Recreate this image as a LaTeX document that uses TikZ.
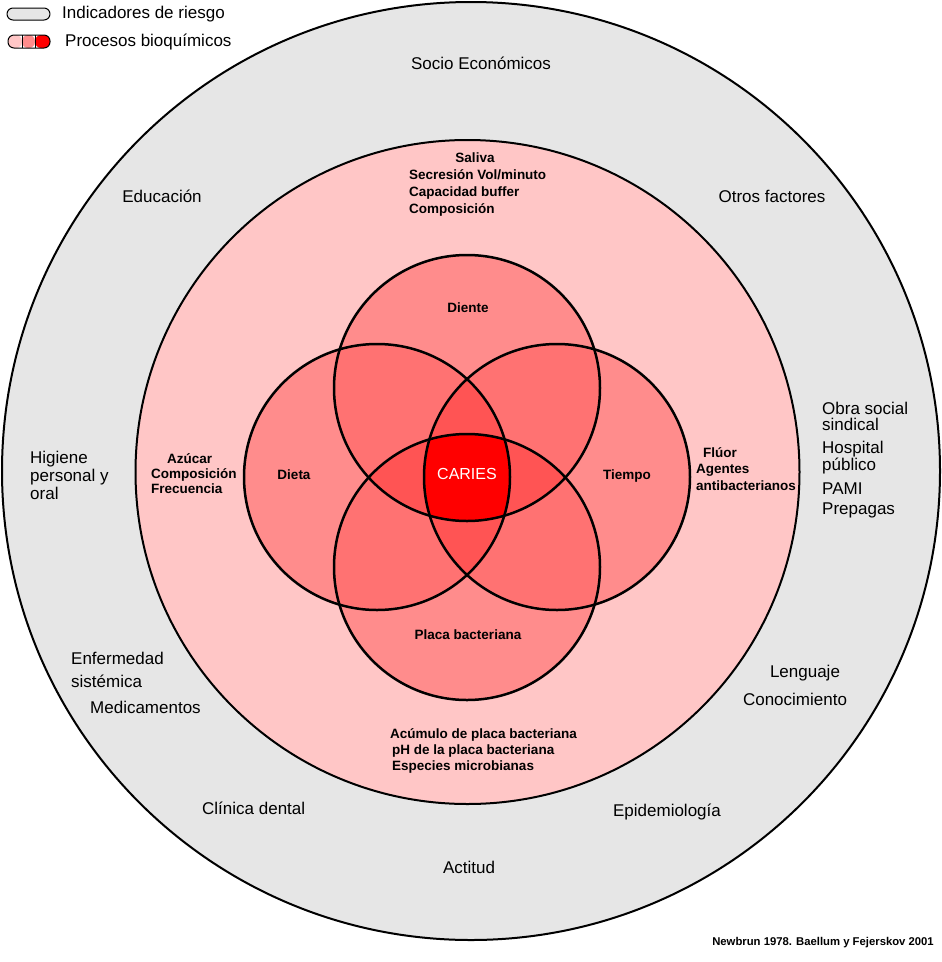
\documentclass[tikz,border=0pt]{standalone}
\usepackage{fontspec}
\setmainfont{Liberation Sans}
\usetikzlibrary{positioning}

\definecolor{grisriesgo}{RGB}{230,230,230}
\definecolor{rosafondo}{RGB}{255,198,198}
\definecolor{rosauno}{RGB}{255,140,140}
\definecolor{rosados}{RGB}{255,114,114}
\definecolor{rosatres}{RGB}{255,84,84}
\definecolor{rojocaries}{RGB}{255,0,0}

\begin{document}
\begin{tikzpicture}[
        x=1pt, y=-1pt, line join=round,
        every node/.append style={inner sep=0pt}
    ]

    \tikzstyle{anillo} = [draw,line width=2pt]
    \tikzstyle{venn} = [draw,line width=2.5pt]
    \tikzstyle{factor} = [font=\fontsize{17}{18}\selectfont,align=left]
    \tikzstyle{proceso} = [font=\bfseries\fontsize{13.5}{16.5}\selectfont,align=left]
    \tikzstyle{pastilla} = [rounded corners=6pt,line width=1pt]

    \useasboundingbox (0,0) rectangle (942,962);
    \fill[white] (0,0) rectangle (942,962);

    % anillos
    \draw[anillo,fill=grisriesgo] (471,471) circle (469pt);
    \draw[anillo,fill=rosafondo] (467.5,472) circle (332pt);

    % circulos de Keyes
    \coordinate (dienteC) at (467,388);
    \coordinate (dietaC) at (377,477);
    \coordinate (tiempoC) at (557,477);
    \coordinate (placaC) at (467,567);

    \foreach \p in {dienteC,dietaC,tiempoC,placaC}
        \fill[rosauno] (\p) circle (133pt);
    \foreach \a/\b in {dienteC/dietaC,dienteC/tiempoC,dienteC/placaC,
                       dietaC/tiempoC,dietaC/placaC,tiempoC/placaC}{
        \begin{scope}
            \clip (\a) circle (133pt);
            \fill[rosados] (\b) circle (133pt);
        \end{scope}
    }
    \foreach \a/\b/\p in {dienteC/dietaC/tiempoC,dienteC/dietaC/placaC,
                          dienteC/tiempoC/placaC,dietaC/tiempoC/placaC}{
        \begin{scope}
            \clip (\a) circle (133pt);
            \clip (\b) circle (133pt);
            \fill[rosatres] (\p) circle (133pt);
        \end{scope}
    }
    \begin{scope}
        \clip (dienteC) circle (133pt);
        \clip (dietaC) circle (133pt);
        \clip (tiempoC) circle (133pt);
        \fill[rojocaries] (placaC) circle (133pt);
    \end{scope}
    \foreach \p in {dienteC,dietaC,tiempoC,placaC}
        \draw[venn] (\p) circle (133pt);

    % procesos bioquimicos
    \node[proceso] (diente) at (468,308) {Diente};
    \node[proceso] (dieta) at (294,475) {Dieta};
    \node[proceso] (tiempo) at (627,476) {Tiempo};
    \node[proceso] (placa) at (468,635) {Placa bacteriana};
    \node[text=white,font=\fontsize{16}{18}\selectfont] (caries) at (467,474) {CARIES};

    \node[proceso] (saliva) at (475,158) {Saliva};
    \node[proceso,anchor=west,font=\bfseries\fontsize{13.5}{17}\selectfont] (salivaitems) at (409,193)
        {Secresión Vol/minuto\\Capacidad buffer\\Composición};
    \node[proceso,anchor=west,font=\bfseries\fontsize{13.5}{15}\selectfont] (azucar) at (151,474)
        {\hspace*{16pt}Azúcar\\Composición\\Frecuencia};
    \node[proceso,anchor=west] (fluor) at (696,469)
        {\hspace*{7pt}Flúor\\Agentes\\antibacterianos};
    \node[proceso,anchor=west,font=\bfseries\fontsize{13.5}{16}\selectfont] (acumulo) at (390,751)
        {Acúmulo de placa bacteriana\\\hspace*{2pt}pH de la placa bacteriana\\\hspace*{2pt}Especies microbianas};

    % indicadores de riesgo
    \node[factor] (socio) at (481,63) {Socio Económicos};
    \node[factor] (educacion) at (162,196) {Educación};
    \node[factor] (otros) at (772,196) {Otros factores};
    \node[factor,anchor=west] (higiene) at (30,475) {Higiene\\personal y\\oral};
    \node[factor,anchor=west,font=\fontsize{17}{16}\selectfont] (obra) at (822,416) {Obra social\\sindical};
    \node[factor,anchor=west,font=\fontsize{17}{17}\selectfont] (hospital) at (822,458) {Hospital\\público};
    \node[factor,anchor=west] (pami) at (822,489) {PAMI};
    \node[factor,anchor=west] (prepagas) at (822,510) {Prepagas};
    \node[factor,anchor=west,font=\fontsize{17}{23}\selectfont] (enfermedad) at (71,669.5) {Enfermedad\\sistémica};
    \node[factor,anchor=west] (medicamentos) at (90,707) {Medicamentos};
    \node[factor,anchor=west] (clinica) at (202,808) {Clínica dental};
    \node[factor] (actitud) at (469,867) {Actitud};
    \node[factor] (epidemiologia) at (667,812) {Epidemiología};
    \node[factor] (lenguaje) at (805,673) {Lenguaje};
    \node[factor] (conocimiento) at (795,699) {Conocimiento};

    % leyenda
    \draw[pastilla,fill=grisriesgo] (7,8) rectangle (50,20);
    \node[factor,anchor=west] (leyriesgo) at (62,14) {Indicadores de riesgo};
    \begin{scope}[rounded corners=6pt]
        \clip (8,35) rectangle (50,48);
        \fill[rosafondo] (8,35) rectangle (22,48);
        \fill[rosauno] (22,35) rectangle (35,48);
        \fill[rojocaries] (35,35) rectangle (50,48);
    \end{scope}
    \draw[line width=1pt] (22,35) -- (22,48) (35,35) -- (35,48);
    \draw[pastilla] (8,35) rectangle (50,48);
    \node[factor,anchor=west] (leyprocesos) at (65,42) {Procesos bioquímicos};

    \node[font=\bfseries\fontsize{11.3}{13}\selectfont,anchor=east] (fuente) at (934,943)
        {Newbrun 1978. Baellum y Fejerskov 2001};

\end{tikzpicture}
\end{document}
